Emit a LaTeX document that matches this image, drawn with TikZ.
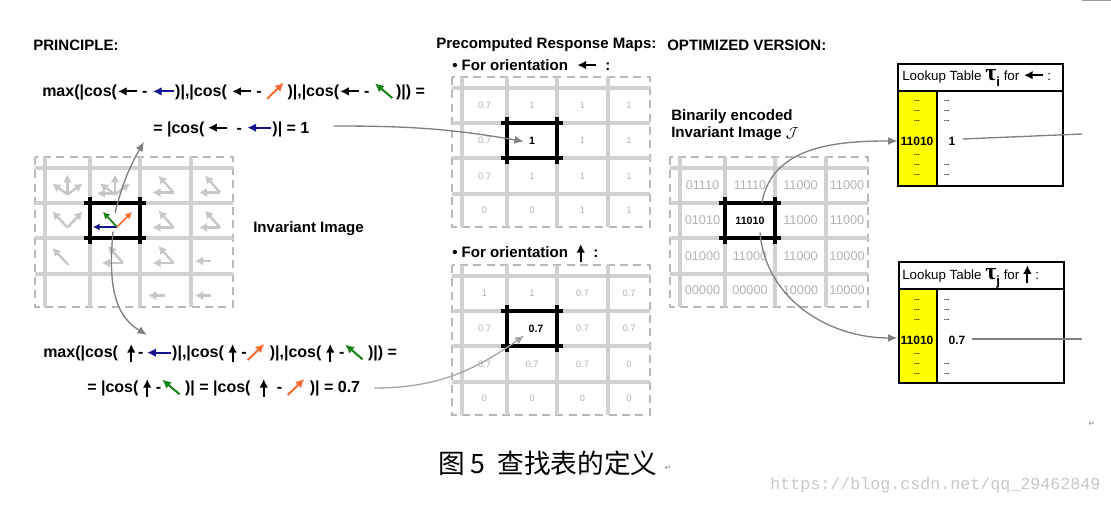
\documentclass[tikz,border=0pt]{standalone}
\usepackage{fontspec}
\setmainfont{Liberation Sans}
\newfontfamily\cjkfont{Noto Sans CJK SC}
\newfontfamily\webfont{Liberation Mono}
\newfontfamily\symfont{DejaVu Sans}
\newfontfamily\greekfont{Liberation Serif}
\usetikzlibrary{arrows.meta,calc}

\definecolor{arrblue}{RGB}{20,20,140}
\definecolor{arrorange}{RGB}{255,105,50}
\definecolor{arrgreen}{RGB}{20,130,20}
\definecolor{tabyellow}{RGB}{255,255,0}

% small direction arrows used inside the formulas
\newcommand{\leftarr}[2][14]{\tikz[baseline=0pt,x=1pt,y=1pt]\draw[#2,line width=1.5pt,-{Latex[length=6.5pt,width=6.5pt]}] (#1,4) -- (0,4);}
\newcommand{\uparr}{\tikz[baseline=0pt,x=1pt,y=1pt]\draw[black,line width=1.5pt,-{Latex[length=6.5pt,width=6.5pt]}] (0,-3) -- (0,10.5);}
\newcommand{\nearr}{\tikz[baseline=0pt,x=1pt,y=1pt]\draw[arrorange,line width=1.5pt,-{Latex[length=6.5pt,width=6.5pt]}] (0,-1.5) -- (12.5,10.5);}
\newcommand{\nwarr}{\tikz[baseline=0pt,x=1pt,y=1pt]\draw[arrgreen,line width=1.5pt,-{Latex[length=6.5pt,width=6.5pt]}] (13,-1) -- (0,10);}
\newcommand{\tauidx}[1]{{\greekfont\bfseries\fontsize{18}{18}\selectfont τ}\raisebox{-4.5pt}{\bfseries #1}}

\tikzset{
  gridline/.style={draw=black!18, line width=2.6pt},
  gridborder/.style={draw=black!28, line width=1.1pt, dash pattern=on 6pt off 4pt},
  hiline/.style={draw=black, line width=2.8pt},
  cellarrow/.style={draw=black!22, line width=1.8pt, -{Latex[length=6pt,width=7pt]}},
  link/.style={draw=black!50, line width=1pt, -{Latex[length=7pt,width=6pt]}},
  plainlink/.style={draw=black!50, line width=1pt},
  lbl/.style={font=\bfseries\fontsize{11.3}{12.75}\selectfont, inner sep=0pt, anchor=west},
  formula/.style={font=\bfseries\fontsize{12}{14}\selectfont, inner sep=0pt, anchor=west},
  mapval/.style={text=black!30, font=\fontsize{7}{8}\selectfont, inner sep=0pt},
  binval/.style={text=black!30, font=\fontsize{9.5}{11}\selectfont, inner sep=0pt},
  hival/.style={font=\bfseries\fontsize{8}{10}\selectfont, inner sep=0pt},
  keyval/.style={font=\bfseries\fontsize{9}{10}\selectfont, inner sep=0pt},
  tabhead/.style={font=\fontsize{10}{12}\selectfont, inner sep=0pt, anchor=west},
  tabline/.style={draw=black, line width=1.4pt},
  tabdots/.style={font=\bfseries\fontsize{5}{5}\selectfont, inner sep=0pt},
  retmark/.style={font=\symfont\fontsize{6}{6}\selectfont, text=black!45, inner sep=0pt},
  % one 4x4 map with its highlighted cell
  cellgrid/.pic={
    \draw[gridborder] (0,0) rectangle (198,150);
    \foreach \gx in {10,55,105,156} \draw[gridline] (\gx,0) -- (\gx,150);
    \foreach \gy in {11,46,81,117} \draw[gridline] (0,\gy) -- (198,\gy);
    \draw[hiline] (49,46) -- (111,46) (49,81) -- (111,81);
    \draw[hiline] (55,40) -- (55,87) (105,40) -- (105,87);
    \foreach \gx [count=\col] in {32.5,80,130.5,177}
      \foreach \gy [count=\row] in {28.5,63.5,99,133.5}
        \coordinate (-\row\col) at (\gx,\gy);
  },
  fanarrows/.pic={
    \draw[cellarrow] (0,9) -- (0,-11);
    \draw[cellarrow] (0,9) -- (-15,-2);
    \draw[cellarrow] (0,9) -- (15,-2);
  },
  triarrows/.pic={
    \draw[cellarrow] (8,7) -- (-13,7);
    \draw[cellarrow] (8,7) -- (-7,-10);
  },
  varrows/.pic={
    \draw[cellarrow] (0,7) -- (-15,-9);
    \draw[cellarrow] (0,7) -- (15,-9);
  },
  diagarrow/.pic={\draw[cellarrow] (1,9) -- (-15,-8);},
  leftarrow/.pic={\draw[cellarrow] (-1,5) -- (-17,5);}
}

\begin{document}
\begin{tikzpicture}[x=0.75pt,y=-0.75pt]
    \useasboundingbox (0,0) rectangle (1111,505);

    % 1. Section titles
    \node[lbl] (principle) at (33,45) {PRINCIPLE:};
    \node[lbl] (precomp) at (436,45) {Precomputed Response Maps:};
    \node[lbl] (optim) at (667,45) {OPTIMIZED VERSION:};

    % 2. The four maps
    \pic (inv) at (35,157) {cellgrid};
    \pic (mapl) at (452,77) {cellgrid};
    \pic (mapu) at (452,265) {cellgrid};
    \pic (bin) at (670,157) {cellgrid};

    % 3. Gradient orientations of the invariant image
    \pic at (inv-11) {fanarrows};
    \pic at (inv-12) {fanarrows};
    \draw[cellarrow] ($(inv-12)+(0,8)$) -- ($(inv-12)+(-18,8)$);
    \pic at (inv-13) {triarrows};
    \pic at (inv-14) {triarrows};
    \pic at (inv-21) {varrows};
    \pic at (inv-23) {triarrows};
    \pic at (inv-24) {triarrows};
    \pic at (inv-31) {diagarrow};
    \pic at (inv-32) {triarrows};
    \pic at (inv-33) {triarrows};
    \pic at (inv-34) {leftarrow};
    \pic at (inv-43) {leftarrow};
    \pic at (inv-44) {leftarrow};
    \coordinate (base) at ($(inv-22)+(2,6.5)$);
    \draw[arrblue, line width=1.3pt, -{Latex[length=5pt,width=5.5pt]}] (base) -- ++(-24,0);
    \draw[arrgreen, line width=1.3pt, -{Latex[length=5pt,width=5.5pt]}] (base) -- ++(-14,-15);
    \draw[arrorange, line width=1.3pt, -{Latex[length=5pt,width=5.5pt]}] (base) -- ++(15,-15);
    \node[lbl] (invlbl) at (253,229) {Invariant Image};

    % 4. Formulas
    \node[formula] (eq1) at (42,91) {max(|cos(\leftarr{black} - \leftarr[16]{arrblue})|,|cos( \leftarr{black} - \nearr\,)|,|cos(\leftarr{black} - \nwarr\,)|) =};
    \node[formula] (eq2) at (153,129) {= |cos(\,\leftarr{black} \ - \leftarr[18]{arrblue})| = 1};
    \node[formula] (eq3) at (43,353) {max(|cos(\ \ \uparr\,-\,\leftarr[18]{arrblue})|,|cos(\ \uparr\ -\nearr\ )|,|cos(\ \uparr\ -\nwarr\ )|) =};
    \node[formula] (eq4) at (87,388) {= |cos(\ \uparr\ -\nwarr\ )| = |cos(\ \ \uparr\ \ - \nearr\ )| = 0.7};

    % 5. Response maps
    \node[lbl] (ori1) at (452,65) {\textbullet\ For orientation \ \leftarr{black}\ \ :};
    \node[lbl] (ori2) at (452,253) {\textbullet\ For orientation \ \uparr\ \ :};
    \foreach \row/\vals in {1/{0.7,1,1,1},2/{0.7,1,1,1},3/{0.7,1,1,1},4/{0,0,1,1}}
      \foreach \v [count=\col] in \vals
        {\ifnum\row\col=22 \else \node[mapval] (mapl-v\row\col) at (mapl-\row\col) {\v}; \fi}
    \foreach \row/\vals in {1/{1,1,0.7,0.7},2/{0.7,0.7,0.7,0.7},3/{0.7,0.7,0.7,0},4/{0,0,0,0}}
      \foreach \v [count=\col] in \vals
        {\ifnum\row\col=22 \else \node[mapval] (mapu-v\row\col) at (mapu-\row\col) {\v}; \fi}
    \node[hival] (maplhl) at (mapl-22) {1};
    \node[hival] (mapuhl) at ($(mapu-22)+(4,0)$) {0.7};

    % 6. Binary encoded image
    \node[lbl, align=left] (binlbl) at (671,125) {Binarily encoded\\Invariant Image $\mathcal{J}$};
    \foreach \row/\vals in {1/{01110,11110,11000,11000},2/{01010,11010,11000,11000},3/{01000,11000,11000,10000},4/{00000,00000,10000,10000}}
      \foreach \v [count=\col] in \vals
        {\ifnum\row\col=22 \else \node[binval] (bin-v\row\col) at (bin-\row\col) {\v}; \fi}
    \node[hival] (binhl) at (bin-22) {11010};

    % 7. Lookup tables
    \fill[tabyellow] (898,91) rectangle (937,186);
    \draw[tabline] (898,64) rectangle (1063,186);
    \draw[tabline] (898,91) -- (1063,91);
    \draw[tabline] (937,91) -- (937,186);
    \node[tabhead] (t1head) at (902,78) {Lookup Table \tauidx{i} for \leftarr{black} :};
    \foreach \y in {101,111,121,155,165,175} \node[tabdots] (t1k\y) at (917,\y) {...};
    \foreach \y in {101,111,121,165,175} \node[tabdots] (t1d\y) at (947,\y) {...};
    \node[keyval] (t1key) at (917,141) {11010};
    \node[keyval] (t1val) at (952,141) {1};

    \fill[tabyellow] (899,289) rectangle (937,383);
    \draw[tabline] (899,262) rectangle (1064,383);
    \draw[tabline] (899,289) -- (1064,289);
    \draw[tabline] (937,289) -- (937,383);
    \node[tabhead] (t2head) at (902,276) {Lookup Table \tauidx{j} for \uparr\ :};
    \foreach \y in {300,310,320,354,364,374} \node[tabdots] (t2k\y) at (917,\y) {...};
    \foreach \y in {300,310,320,364,374} \node[tabdots] (t2d\y) at (947,\y) {...};
    \node[keyval] (t2key) at (917,340) {11010};
    \node[keyval] (t2val) at (957,340) {0.7};

    % 8. Connectors
    \coordinate (invup) at ($(inv-22)+(0,-8)$);
    \coordinate (invdn) at ($(inv-22)+(-2,11)$);
    \draw[link] (invup) to[out=75,in=-120] ($(eq2.south west)+(-9,5)$);
    \draw[link] (invdn) to[out=-95,in=150] ($(eq3.north west)+(104,-8)$);
    \draw[link] ($(eq2.east)+(24,-3)$) to[out=0,in=170] ($(maplhl.west)+(-5,1)$);
    \draw[link, draw=black!35] ($(eq4.east)+(14,0)$) to[out=0,in=-145] ($(mapuhl.west)+(-4,7)$);
    \draw[link] ($(bin-22)+(12,-18)$) to[out=80,in=180] ($(t1key.west)+(-3,0)$);
    \draw[link] ($(bin-22)+(10,12)$) to[out=-85,in=180] ($(t2key.west)+(-3,-2)$);
    \coordinate (t1out) at (1082,134);
    \coordinate (t2out) at (1082,339);
    \draw[plainlink] ($(t1val.east)+(7,-2)$) -- (t1out);
    \draw[plainlink] ($(t2val.east)+(6,-1)$) -- (t2out);
    \draw[black!40, line width=1pt] (1082,0.5) -- (1111,0.5);

    % 9. Caption and marks
    \node[anchor=west, inner sep=0pt, font=\cjkfont\fontsize{20}{24}\selectfont] (caption) at (438,463) {图 5\ \ 查找表的定义};
    \node[retmark] (ret1) at (668,468) {↵};
    \node[retmark] (ret2) at (1092,424) {↵};
    \node[anchor=west, inner sep=0pt, font=\webfont\fontsize{12.5}{14}\selectfont, text=black!22] (wmark) at (770,485) {https://blog.csdn.net/qq\_29462849};
\end{tikzpicture}
\end{document}
